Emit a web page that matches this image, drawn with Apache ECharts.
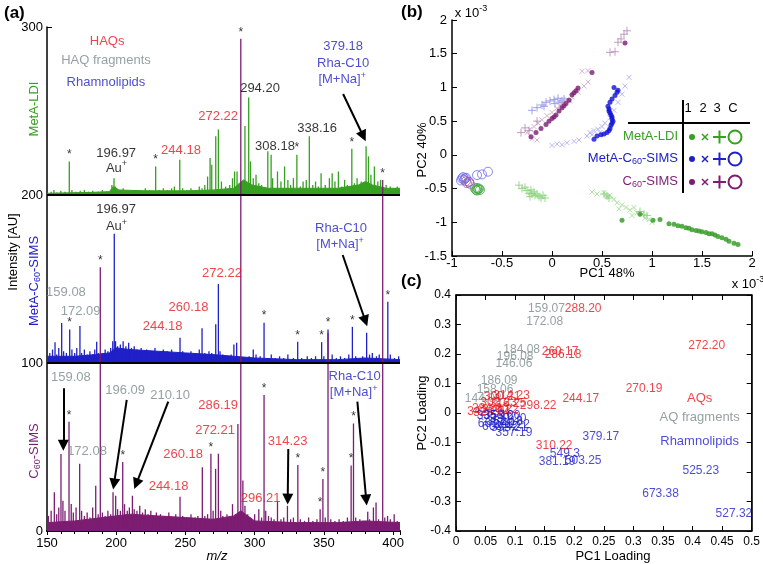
<!DOCTYPE html>
<html lang="en">
<head>
<meta charset="UTF-8">
<title>MetA spectra and PCA</title>
<script src="https://cdn.jsdelivr.net/npm/echarts@6.0.0/dist/echarts.min.js"></script>
<style>body { margin: 0; background: #fff; }</style>
</head>
<body>
<div id="main" style="width:763px;height:564px;"></div>
<script>
// ---------- panel (a): spectra, [m/z, intensity within its own 0-100 panel] ----------
const peaksLDI = [
  [153,2],[155,3],[157,1.5],[160,2.5],[163,2],[166.1,20],[168,3],[171,2],[174,2.5],[177,3],[180,2],[183,2.5],
  [187,2],[190,3],[193,2],[196.9,6],[198.4,10],[199.5,5],[202,3],[205,4],[208,2.5],[212,3],[215,2],[218,3],
  [221,4],[224,3],[228.5,17],[231,3],[234,4],[237,3],[240,4],[242,5],[245.9,21],[248,4],[251,3],[254,4],
  [257,3],[260,5],[262,4],[264,6],[266,11],[267.8,22],[269,18],[271.9,35],[273.8,39],[276,8],[279,5],[282,6],
  [284,10],[285.5,14],[287.3,14],[293,41],[295.7,58],[297,20],[299,10],[301,12],[303,7],[305,6],[309.5,26],
  [311.9,24],[313,10],[316.5,14],[319,8],[321.6,17],[324,9],[326,6],[328,10],[330.5,24],[333,5],[335,8],
  [337.3,9],[339.5,35],[342,6],[344,8],[346,5],[348,13],[351,6],[354,10],[356,13],[358,8],[360.5,14],[363,5],
  [365,9],[367,6],[370.2,27.5],[372,7],[374,10],[377,8],[380.5,29],[382.2,23],[384,12],[386.5,17],[389,8],
  [391,9],[395,6],[398,5],[401,4],[403,5]
];
const peaksMetA = [
  [152,6],[154,8],[155.8,12.4],[157,5],[158.5,9],[160.6,23.8],[162,7],[164,6],[166.4,20],[168,8],[170,6],
  [171.5,9],[173.8,22],[175,6],[177,8],[179,5],[181,7],[183,5],[184.5,8],[185.9,12.6],[187,6],[190,6],[192,8],
  [194,7],[196,9],[197.5,13],[198.6,77],[199.5,13],[201,10],[203,11],[205,13],[207,10],[209,12],[211,9],
  [213,10],[215,8],[218,9],[220,7],[222,8],[225,7],[228,9],[231,6],[234,8],[237,7],[240,8],[243,6],[246.1,15],
  [248,7],[251,6],[254,7],[257,6],[260,8],[262,20.7],[264,6],[267,7],[269,6],[271.9,23],[273.8,47],[275,7],
  [277,5],[280,4],[283,5],[285,11],[287,12],[293,3],[296,4],[299,8],[301,5],[304,4],[306.8,24],[309,3],
  [312,5],[315,3],[318,4],[321,3],[324,5],[328,3],[331.1,12.6],[334,3],[338,4],[341,3],[344,4],[348.4,12.4],
  [350,4],[353,20],[356,5],[359,3],[362,4],[365,3],[368,5],[370.6,21.5],[373,4],[376,3],[378,4],[380.9,18],
  [383,5],[385,6],[388,4],[390,5],[396.2,36.4],[398,5],[401,3],[404,4]
];
const peaksC60 = [
  [151,9],[153,12],[155.3,23],[157,10],[158.5,14],[160.1,45.8],[161.5,18],[163,12],[165.9,65],[167.5,16],
  [169,11],[171,14],[173.6,40],[175,12],[177,9],[179,11],[181,8],[183,14],[185.2,27],[187,10],[188.5,157],
  [190,11],[192,9],[194,12],[196,10],[197.7,23],[199.6,21],[201,13],[203,12],[204.7,41],[206,16],[208,12],
  [209.5,14],[211.7,21],[213,13],[215,12],[217,15],[219,11],[221,13],[223,10],[225,12],[227,9],[229,11],
  [232,10],[235,9],[238,11],[241,8],[243,10],[246.1,20.4],[248,9],[251,8],[254,10],[257,8],[259,9],
  [262.2,38],[264,9],[266,10],[268.4,46],[270,12],[271.8,37],[273.8,46],[275.5,12],[277,9],[280,10],[282,8],
  [284,16],[286,10],[287.9,63.7],[290,293],[291.5,30],[293,15],[295,10],[297,8],[300,10],[303,13],[305,8],
  [306.8,81],[308,12],[310,9],[312,8],[314,7],[316.5,17.5],[319,7],[321,8],[323.7,15],[326,7],[328,8],
  [331.2,39.3],[333,7],[336,6],[339,8],[342,6],[345,7],[347.3,13],[349.3,31],[351,8],[353,118],[355,7],
  [358,6],[361,7],[364,6],[367,8],[369.7,39],[371.4,64],[373,8],[376,7],[378,6],[381.7,11.5],[383,7],
  [385.8,14],[387.7,17],[389.5,7],[392.5,209],[394,8],[396,9],[398,7],[400.8,10],[403,6]
];
// noise floor envelopes
const floorLDI = [[150,1],[160,1.2],[180,1.5],[195,2],[198,5],[202,3],[220,2.5],[250,2.5],[270,3],[285,4],
  [289,7],[292,9],[298,6],[310,4],[340,4],[360,4],[375,6],[380,8],[385,6],[395,4],[405,4]];
const floorMetA = [[150,4],[170,4],[185,5],[195,6],[200,9],[210,8],[230,7],[250,6],[270,5],[285,4],[300,3],
  [330,2],[360,2],[380,3],[405,2]];
const floorC60 = [[150,5],[170,6],[190,8],[210,10],[230,9],[250,8],[270,7],[285,9],[290,12],[300,6],[330,5],
  [360,5],[380,6],[405,5]];
// peaks marked with *
const starsLDI = [166.1, 228.5, 330.5, 370.2];
const starsMetA = [166.4, 306.8, 331.1, 348.4, 353, 370.6, 396.2];
const starsC60 = [165.9, 188.5, 204.7, 268.4, 290, 306.8, 331.2, 347.3, 349.3, 369.7, 371.4, 392.5];
const mzTicks = [150, 200, 250, 300, 350, 400];

// ---------- panel (b): PCA scores (x 10^-3) ----------
const ldiDots = [[0.70,-0.97],[0.88,-0.88],[1.01,-0.97],[1.08,-0.96],[1.17,-1.02],[1.22,-1.03],[1.26,-1.05],
  [1.30,-1.06],[1.34,-1.08],[1.37,-1.09],[1.40,-1.11],[1.44,-1.12],[1.47,-1.13],[1.50,-1.14],[1.54,-1.15],
  [1.57,-1.17],[1.60,-1.17],[1.63,-1.19],[1.66,-1.21],[1.70,-1.23],[1.74,-1.25],[1.77,-1.28],[1.82,-1.31],[1.86,-1.33]];
const ldiCross = [[0.40,-0.55],[0.45,-0.58],[0.52,-0.56],[0.55,-0.62],[0.58,-0.60],[0.62,-0.66],[0.65,-0.71],
  [0.70,-0.74],[0.74,-0.78],[0.78,-0.82],[0.82,-0.78],[0.85,-0.86],[0.90,-0.88],[0.93,-0.94],[0.97,-0.96],
  [1.00,-1.00],[0.67,-0.80],[0.80,-0.90]];
const ldiPlus = [[-0.33,-0.45],[-0.30,-0.50],[-0.27,-0.48],[-0.25,-0.53],[-0.23,-0.57],[-0.21,-0.52],[-0.20,-0.58],
  [-0.18,-0.55],[-0.17,-0.60],[-0.15,-0.58],[-0.13,-0.62],[-0.11,-0.64],[-0.09,-0.60],[-0.07,-0.64],[-0.22,-0.62],
  [0.52,-0.58],[0.55,-0.61],[0.57,-0.64],[0.88,-0.84],[0.92,-0.88],[0.95,-0.90]];
const ldiRing = [[-0.77,-0.50],[-0.75,-0.49],[-0.74,-0.51],[-0.73,-0.50],[-0.76,-0.52],[-0.72,-0.52],[-0.75,-0.53]];
const metaDots = [[0.42,0.23],[0.45,0.28],[0.49,0.30],[0.52,0.31],[0.55,0.33],[0.57,0.36],[0.58,0.39],[0.59,0.44],
  [0.60,0.47],[0.61,0.50],[0.60,0.53],[0.60,0.56],[0.59,0.59],[0.58,0.62],[0.57,0.65],[0.57,0.68],[0.56,0.72],
  [0.58,0.78],[0.60,0.83],[0.63,0.88],[0.65,0.93],[0.66,0.96],[0.62,1.00]];
const metaCross = [[0.00,0.14],[0.05,0.16],[0.10,0.15],[0.15,0.18],[0.22,0.20],[0.27,0.22],[0.35,0.28],[0.38,0.33],
  [0.42,0.36],[0.46,0.38],[0.50,0.42],[0.53,0.47],[0.58,0.55],[0.62,0.66],[0.66,0.78],[0.70,0.90],[0.73,1.02],
  [0.77,1.15],[0.40,0.30],[0.48,0.33]];
const metaPlus = [[-0.20,0.66],[-0.15,0.70],[-0.10,0.74],[-0.06,0.78],[-0.02,0.80],[0.02,0.82],[0.06,0.84],
  [0.10,0.80],[-0.08,0.72],[0.03,0.76],[0.08,0.78],[0.12,0.83]];
const metaRing = [[-0.90,-0.35],[-0.88,-0.37],[-0.89,-0.33],[-0.87,-0.35],[-0.91,-0.38],[-0.86,-0.34],
  [-0.83,-0.40],[-0.75,-0.30],[-0.70,-0.29],[-0.64,-0.25]];
const c60Dots = [[-0.21,0.27],[-0.16,0.33],[-0.11,0.39],[-0.06,0.45],[-0.03,0.50],[0.00,0.54],[0.02,0.56],
  [0.04,0.59],[0.07,0.65],[0.10,0.70],[0.12,0.73],[0.14,0.76],[0.17,0.81],[0.20,0.89],[0.22,0.92],[0.24,0.95],
  [0.26,0.99],[0.40,1.22],[0.73,1.66]];
const c60Cross = [[-0.25,0.33],[-0.22,0.38],[-0.18,0.42],[-0.14,0.47],[-0.10,0.52],[-0.05,0.58],[0.00,0.63],
  [0.05,0.69],[0.10,0.76],[0.15,0.82],[0.20,0.86],[0.26,0.93],[0.32,1.02],[0.36,1.08],[0.30,1.24],[0.36,1.25],
  [-0.20,0.24],[-0.15,0.22],[0.08,0.72],[0.18,0.80]];
const c60Plus = [[-0.31,0.33],[-0.27,0.40],[-0.23,0.36],[-0.15,0.50],[0.58,1.52],[0.63,1.53],[0.66,1.67],
  [0.72,1.79],[0.75,1.84],[0.69,1.72]];
const c60Ring = [[-0.85,-0.42],[-0.83,-0.40],[-0.86,-0.39],[-0.82,-0.43]];

// ---------- panel (c): loadings [PC1, PC2, m/z label] ----------
const aqLoad = [[0.215,0.355,'288.20'],[0.176,0.207,'260.17'],[0.181,0.197,'286.18'],[0.424,0.227,'272.20'],
  [0.318,0.081,'270.19'],[0.211,0.047,'244.17'],[0.139,0.024,'298.22'],[0.166,-0.112,'310.22'],
  [0.094,0.058,'314.23'],[0.078,0.056,'300.21'],[0.072,0.036,'302.23'],[0.088,0.030,'316.25'],
  [0.058,0.016,'284.20'],[0.075,0.012,'330.22'],[0.060,0.000,'328.24'],[0.050,0.004,'342.25']];
const fragLoad = [[0.153,0.355,'159.07'],[0.150,0.310,'172.08'],[0.111,0.216,'184.08'],[0.100,0.190,'196.08'],
  [0.098,0.166,'146.06'],[0.073,0.108,'186.09'],[0.066,0.078,'158.06'],[0.046,0.047,'144.08']];
const rhaLoad = [[0.245,-0.081,'379.17'],[0.098,-0.068,'357.19'],[0.184,-0.139,'549.3'],[0.171,-0.166,'381.19'],
  [0.215,-0.163,'503.25'],[0.414,-0.197,'525.23'],[0.346,-0.275,'673.38'],[0.470,-0.342,'527.32'],
  [0.066,-0.008,'335.16'],[0.068,-0.036,'661.40'],[0.082,-0.028,'351.18'],[0.094,-0.040,'365.22'],
  [0.090,-0.050,'393.21'],[0.075,-0.046,'663.42'],[0.088,-0.018,'339.20'],[0.078,-0.010,'353.20']];

// ---------- styling ----------
const F = "'Liberation Sans', Arial, sans-serif";
const C = { green: '#36a020', blue: '#2020c8', purple: '#7c1d72', red: '#e8161e', grey: '#7b8a8a', k: '#000' };

// annotations of panel (a): [text, m/z, y, colour, superscript]
const notesA = [
  ['HAQs', 193.4, 292, 'red'], ['HAQ fragments', 192.6, 280.6, 'grey'], ['Rhamnolipids', 192.6, 267.9, 'blue'],
  ['196.97', 200, 225.6, 'k'], ['Au', 200.2, 216.7, 'k', '+'], ['244.18', 246.8, 227.4, 'red'],
  ['272.22', 273.6, 247.6, 'red'], ['294.20', 303.9, 264.3, 'k'], ['308.18', 314.7, 229.8, 'k'],
  ['338.16', 345.1, 240.5, 'k'], ['379.18', 363.9, 289.3, 'blue'], ['Rha-C10', 363.9, 279.2, 'blue'],
  ['[M+Na]', 363.2, 269.6, 'blue', '+'],
  ['196.97', 199.9, 192.3, 'k'], ['Au', 200.2, 182, 'k', '+'], ['159.08', 163.7, 142.9, 'grey'],
  ['172.09', 174.3, 131, 'grey'], ['244.18', 233.5, 122.6, 'red'], ['260.18', 252.2, 133.9, 'red'],
  ['272.22', 276.4, 153.8, 'red'], ['Rha-C10', 362.4, 180.9, 'blue'], ['[M+Na]', 361.7, 171.4, 'blue', '+'],
  ['159.08', 167.3, 91.8, 'grey'], ['172.08', 178.9, 48.2, 'grey'], ['196.09', 206.4, 84.3, 'grey'],
  ['210.10', 238.9, 81.5, 'grey'], ['244.18', 237.8, 27.4, 'red'], ['260.18', 248.3, 46.2, 'red'],
  ['272.21', 271.4, 60.7, 'red'], ['286.19', 273.6, 75.4, 'red'], ['314.23', 323.8, 53.8, 'red'],
  ['296.21', 304.3, 20, 'red'], ['Rha-C10', 372.2, 92.9, 'blue'], ['[M+Na]', 371.5, 82.9, 'blue', '+']
];
const arrowsA = [
  [[363.9,260.1],[378.5,235]], [[363.6,164.3],[380,125]], [[161.8,85],[161.8,51]],
  [[207.6,78],[198.4,28]], [[237.6,77],[214.5,28]], [[324.3,48.8],[323.9,19]], [[374.2,77],[380.6,18.5]]
];
const notesC = [['AQs', 0.412, 0.051, 'red'], ['AQ fragments', 0.412, -0.014, 'grey'], ['Rhamnolipids', 0.412, -0.095, 'blue']];

function noteItem(n) {
  const col = C[n[3]];
  const txt = n[4] ? '{n|' + n[0] + '}{s|' + n[4] + '}' : '{n|' + n[0] + '}';
  return {
    value: [n[1], n[2]],
    label: {
      formatter: txt,
      rich: {
        n: { color: col, fontSize: 13, fontFamily: F, lineHeight: 15, verticalAlign: 'bottom' },
        s: { color: col, fontSize: 9, fontFamily: F, lineHeight: 9, verticalAlign: 'top' }
      }
    }
  };
}

function stickSeries(peaks, base, color, z) {
  return {
    type: 'custom', xAxisIndex: 0, yAxisIndex: 0, z: z, clip: true, silent: true,
    data: peaks.map(p => [p[0], base, base + p[1]]),
    encode: { x: 0, y: [1, 2] },
    renderItem: function (params, api) {
      const a = api.coord([api.value(0), api.value(1)]);
      const b = api.coord([api.value(0), api.value(2)]);
      return { type: 'line', shape: { x1: a[0], y1: a[1], x2: b[0], y2: b[1] }, style: { stroke: color, lineWidth: 1.3 } };
    }
  };
}

function floorSeries(env, base, color) {
  return {
    type: 'line', xAxisIndex: 0, yAxisIndex: 0, z: 2, silent: true, symbol: 'none',
    data: env.map(p => [p[0], base + p[1]]),
    lineStyle: { color: color, width: 1 },
    areaStyle: { color: color, opacity: 1, origin: base }
  };
}

function starSeries(list, peaks, base) {
  return {
    type: 'scatter', xAxisIndex: 0, yAxisIndex: 0, z: 8, silent: true, symbolSize: 1,
    itemStyle: { color: 'rgba(0,0,0,0)' },
    data: list.map(m => [m, base + peaks.find(p => p[0] === m)[1]]),
    label: { show: true, position: 'top', distance: 0, formatter: '*', color: '#000', fontSize: 12, fontFamily: F }
  };
}

const crossPath = 'path://M0,0L10,10M10,0L0,10';
const plusPath = 'path://M5,0L5,10M0,5L10,5';
function pcaSeries(data, kind, color) {
  const s = { type: 'scatter', xAxisIndex: 1, yAxisIndex: 1, silent: true, data: data, z: 3 };
  if (kind === 'dot') { s.symbol = 'circle'; s.symbolSize = 5; s.itemStyle = { color: color }; s.z = 4; }
  if (kind === 'cross') { s.symbol = crossPath; s.symbolSize = 5; s.itemStyle = { color: 'none', borderColor: color, borderWidth: 1 }; }
  if (kind === 'plus') { s.symbol = plusPath; s.symbolSize = 8; s.itemStyle = { color: 'none', borderColor: color, borderWidth: 1 }; }
  if (kind === 'ring') { s.symbol = 'circle'; s.symbolSize = 9; s.itemStyle = { color: 'rgba(0,0,0,0)', borderColor: color, borderWidth: 1 }; }
  return s;
}

function loadSeries(data, color) {
  return {
    type: 'scatter', xAxisIndex: 2, yAxisIndex: 2, silent: true, symbolSize: 1,
    itemStyle: { color: 'rgba(0,0,0,0)' },
    data: data.map(d => ({ value: [d[0], d[1]], name: d[2] })),
    label: { show: true, position: 'inside', formatter: '{b}', color: color, fontSize: 12, fontFamily: F }
  };
}

// ---------- graphic helpers ----------
function txt(text, x, y, opt) {
  opt = opt || {};
  return {
    type: 'text', x: x, y: y, rotation: opt.rot || 0, silent: true, z: 20,
    style: {
      text: text, x: 0, y: 0, fill: opt.color || '#000', font: opt.font || ('13px ' + F),
      rich: opt.rich, textAlign: opt.align || 'center', textVerticalAlign: 'middle',
      align: opt.align || 'center', verticalAlign: 'middle'
    }
  };
}
function subRich(color) {
  return {
    n: { fill: color, color: color, fontSize: 13, fontFamily: F, lineHeight: 15, padding: [0, 0, 4, 0], verticalAlign: 'top' },
    s: { fill: color, color: color, fontSize: 9, fontFamily: F, lineHeight: 10, verticalAlign: 'bottom' }
  };
}
function supRich(color) {
  return {
    n: { fill: color, color: color, fontSize: 13, fontFamily: F, lineHeight: 15, verticalAlign: 'bottom' },
    s: { fill: color, color: color, fontSize: 9, fontFamily: F, lineHeight: 9, verticalAlign: 'top' }
  };
}
function seg(x1, y1, x2, y2, color, w) {
  return { type: 'line', silent: true, z: 20, shape: { x1: x1, y1: y1, x2: x2, y2: y2 }, style: { stroke: color, lineWidth: w } };
}

const legendRows = [
  ['{n|MetA-LDI}', C.green, 137],
  ['{n|MetA-C}{s|60}{n|-SIMS}', C.blue, 159],
  ['{n|C}{s|60}{n|-SIMS}', C.purple, 182]
];
const graphics = [
  txt('(a)', 4, 13, { font: 'bold 17px ' + F, align: 'left' }),
  txt('(b)', 401, 12, { font: 'bold 17px ' + F, align: 'left' }),
  txt('(c)', 401, 281, { font: 'bold 17px ' + F, align: 'left' }),
  txt('Intensity [AU]', 13, 252, { rot: Math.PI / 2 }),
  txt('{n|MetA-LDI}', 35, 109, { rot: Math.PI / 2, rich: subRich(C.green) }),
  txt('{n|MetA-C}{s|60}{n|-SIMS}', 35, 281, { rot: Math.PI / 2, rich: subRich(C.blue) }),
  txt('{n|C}{s|60}{n|-SIMS}', 35, 451, { rot: Math.PI / 2, rich: subRich(C.purple) }),
  txt('m/z', 217, 556, { font: 'italic 13px ' + F }),
  txt('PC1 48%', 607, 273),
  txt('PC2 40%', 422, 150, { rot: Math.PI / 2 }),
  txt('{n|x 10}{s|-3}', 471, 12, { rich: supRich('#000') }),
  txt('{n|x 10}{s|-3}', 748, 283, { rich: supRich('#000') }),
  txt('PC1 Loading', 613, 556),
  txt('PC2 Loading', 422, 413, { rot: Math.PI / 2 }),
  txt('1', 688, 108), txt('2', 703, 108), txt('3', 717, 108), txt('C', 733, 108),
  seg(683, 100, 683, 193, '#000', 2),
  seg(628, 123, 750, 123, '#000', 2)
];
legendRows.forEach(r => {
  const y = r[2], c = r[1];
  graphics.push(txt(r[0], 678, y, { align: 'right', rich: subRich(c) }));
  graphics.push({ type: 'circle', silent: true, z: 20, shape: { cx: 692, cy: y, r: 3 }, style: { fill: c } });
  graphics.push(seg(702, y - 3, 708, y + 3, c, 1.5), seg(708, y - 3, 702, y + 3, c, 1.5));
  graphics.push(seg(713, y, 726, y, c, 2), seg(719.5, y - 6.5, 719.5, y + 6.5, c, 2));
  graphics.push({ type: 'circle', silent: true, z: 20, shape: { cx: 735, cy: y, r: 6.5 }, style: { fill: 'none', stroke: c, lineWidth: 2 } });
});

// ---------- axes ----------
const lbl = { color: '#000', fontSize: 13, fontFamily: F };
const blackLine = { show: true, onZero: false, lineStyle: { color: '#000', width: 1.5 } };
const inTick = { show: true, inside: true, length: 5, lineStyle: { color: '#000' } };

const option = {
  animation: false,
  backgroundColor: '#fff',
  grid: [
    { left: 47, top: 27, width: 353, height: 504 },
    { left: 452, top: 20, width: 300, height: 236 },
    { left: 456, top: 295, width: 296, height: 236, show: true, borderColor: '#000', borderWidth: 1 }
  ],
  xAxis: [
    { gridIndex: 0, type: 'value', min: mzTicks[0], max: 405, interval: 50,
      axisLine: { show: true, onZero: false, lineStyle: { color: '#000', width: 2 } },
      axisTick: { show: true, inside: false, length: 4, lineStyle: { color: '#000' } },
      minorTick: { show: true, splitNumber: 5, length: 3, lineStyle: { color: '#000' } },
      axisLabel: Object.assign({ margin: 6 }, lbl), splitLine: { show: false } },
    { gridIndex: 1, type: 'value', min: -1, max: 2, interval: 0.5, axisLine: blackLine, axisTick: inTick,
      axisLabel: Object.assign({ margin: 1 }, lbl), splitLine: { show: false } },
    { gridIndex: 2, type: 'value', min: 0, max: 0.5, interval: 0.05, axisLine: blackLine, axisTick: inTick,
      axisLabel: Object.assign({}, lbl, { fontSize: 12, margin: 5, formatter: v => String(+v.toFixed(2)) }),
      splitLine: { show: false } },
    { gridIndex: 2, type: 'value', position: 'top', min: 0, max: 0.5, interval: 0.05, axisLine: blackLine,
      axisTick: inTick, axisLabel: { show: false }, splitLine: { show: false } }
  ],
  yAxis: [
    { gridIndex: 0, type: 'value', min: 0, max: 300, interval: 100, axisLine: blackLine, axisTick: inTick,
      axisLabel: Object.assign({ margin: 4 }, lbl), splitLine: { show: false } },
    { gridIndex: 1, type: 'value', min: -1.5, max: 2, interval: 0.5, axisLine: blackLine, axisTick: inTick,
      axisLabel: Object.assign({ margin: 5 }, lbl), splitLine: { show: false } },
    { gridIndex: 2, type: 'value', min: -0.4, max: 0.4, interval: 0.1, axisLine: blackLine, axisTick: inTick,
      axisLabel: Object.assign({}, lbl, { fontSize: 12, margin: 5, formatter: v => String(+v.toFixed(1)) }),
      splitLine: { show: false } },
    { gridIndex: 2, type: 'value', position: 'right', min: -0.4, max: 0.4, interval: 0.1, axisLine: blackLine,
      axisTick: inTick, axisLabel: { show: false }, splitLine: { show: false } }
  ],
  graphic: graphics,
  series: [
    floorSeries(floorLDI, 200, C.green),
    floorSeries(floorMetA, 100, C.blue),
    Object.assign(floorSeries(floorC60, 0, C.purple), {
      markLine: { silent: true, symbol: 'none', label: { show: false }, lineStyle: { color: '#000', width: 2, type: 'solid' },
        data: [{ yAxis: 100 }, { yAxis: 200 }] }
    }),
    stickSeries(peaksLDI, 200, C.green, 3),
    stickSeries(peaksMetA, 100, C.blue, 3),
    stickSeries(peaksC60, 0, C.purple, 4),
    starSeries(starsLDI, peaksLDI, 200),
    starSeries(starsMetA, peaksMetA, 100),
    starSeries(starsC60, peaksC60, 0),
    {
      type: 'scatter', xAxisIndex: 0, yAxisIndex: 0, z: 10, silent: true, symbolSize: 1,
      itemStyle: { color: 'rgba(0,0,0,0)' },
      label: { show: true, position: 'inside' },
      data: notesA.map(noteItem),
      markLine: {
        silent: true, symbol: ['none', 'triangle'], symbolSize: 11, label: { show: false },
        lineStyle: { color: '#000', width: 2, type: 'solid' },
        data: arrowsA.map(a => [{ coord: a[0] }, { coord: a[1] }])
      }
    },
    pcaSeries(ldiCross, 'cross', '#9ad88a'),
    pcaSeries(ldiPlus, 'plus', '#86cf76'),
    pcaSeries(ldiRing, 'ring', '#3aa83a'),
    pcaSeries(ldiDots, 'dot', '#2f9a1f'),
    pcaSeries(metaCross, 'cross', '#a8a8ee'),
    pcaSeries(metaPlus, 'plus', '#8c8ce8'),
    pcaSeries(metaRing, 'ring', '#6a6ae8'),
    pcaSeries(metaDots, 'dot', '#1010d8'),
    pcaSeries(c60Cross, 'cross', '#c8a0c8'),
    pcaSeries(c60Plus, 'plus', '#b484b4'),
    pcaSeries(c60Ring, 'ring', '#a060a8'),
    pcaSeries(c60Dots, 'dot', C.purple),
    loadSeries(fragLoad, C.grey),
    loadSeries(aqLoad, C.red),
    loadSeries(rhaLoad, C.blue),
    {
      type: 'scatter', xAxisIndex: 2, yAxisIndex: 2, silent: true, symbolSize: 1,
      itemStyle: { color: 'rgba(0,0,0,0)' },
      data: notesC.map(n => ({ value: [n[1], n[2]], name: n[0], label: { color: C[n[3]] } })),
      label: { show: true, position: 'inside', formatter: '{b}', fontSize: 13, fontFamily: F }
    }
  ]
};

const chart = echarts.init(document.getElementById('main'));
chart.setOption(option);
</script>
</body>
</html>
